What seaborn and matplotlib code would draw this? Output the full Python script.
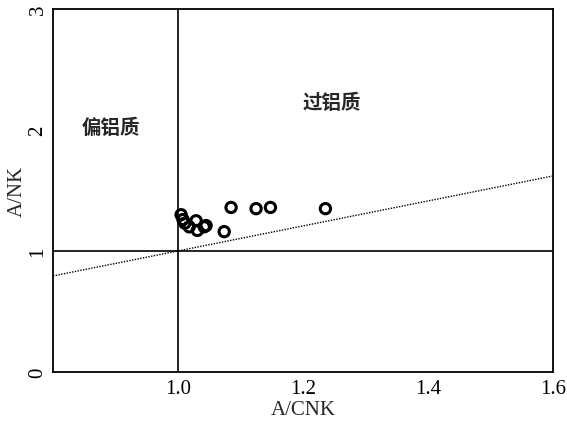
import matplotlib
matplotlib.use("Agg")
import matplotlib.pyplot as plt
import seaborn as sns
import numpy as np
import pandas as pd

sns.set_style("white")
plt.rcParams['font.family'] = ['Liberation Serif', 'Noto Sans CJK SC']

# sample values
acnk = [1.005, 1.008, 1.011, 1.018, 1.029, 1.031, 1.042, 1.045, 1.074, 1.085, 1.125, 1.148, 1.236]
ank = [1.30, 1.26, 1.23, 1.20, 1.25, 1.17, 1.20, 1.21, 1.16, 1.36, 1.35, 1.36, 1.35]
df = pd.DataFrame({"A/CNK": acnk, "A/NK": ank})

line_x = [0.8, 1.6]
line_y = [0.794, 1.62]

fig = plt.figure(figsize=(5.67, 4.27), dpi=100)
ax = fig.add_axes([0.0935, 0.1265, 0.8815, 0.85])

ax.axvline(1.0, color="black", lw=1.2)
ax.axhline(1.0, color="black", lw=1.2)
ax.plot(line_x, line_y, color="black", lw=1.0, ls=(0, (1, 1)))

sns.scatterplot(data=df, x="A/CNK", y="A/NK", ax=ax, marker="o",
                s=55, facecolor="none", edgecolor="black", linewidth=2.2, zorder=3)

ax.text(0.893, 2.02, "偏铝质", fontsize=14, ha="center", va="center",
        family=['Noto Sans CJK SC'], weight="bold")
ax.text(1.247, 2.23, "过铝质", fontsize=14, ha="center", va="center",
        family=['Noto Sans CJK SC'], weight="bold")

ax.set_xlim(0.8, 1.6)
ax.set_ylim(0, 3)
ax.set_xticks([1.0, 1.2, 1.4, 1.6])
ax.set_xticklabels(["1.0", "1.2", "1.4", "1.6"])
ax.set_yticks([0, 1, 2, 3])
ax.set_yticklabels(["0", "1", "2", "3"], rotation=90, va="center")
ax.tick_params(direction="in", length=5, width=1.2, labelsize=15, colors="black")
ax.tick_params(axis="x", pad=5)
ax.tick_params(axis="y", pad=4)
for sp in ax.spines.values():
    sp.set_color("black")
    sp.set_linewidth(1.3)
ax.set_xlabel("A/CNK", fontsize=15)
ax.set_ylabel("A/NK", fontsize=15)
ax.xaxis.set_label_coords(0.5, -0.078)
ax.yaxis.set_label_coords(-0.052, 0.5)

fig.savefig("out.png", dpi=100)
